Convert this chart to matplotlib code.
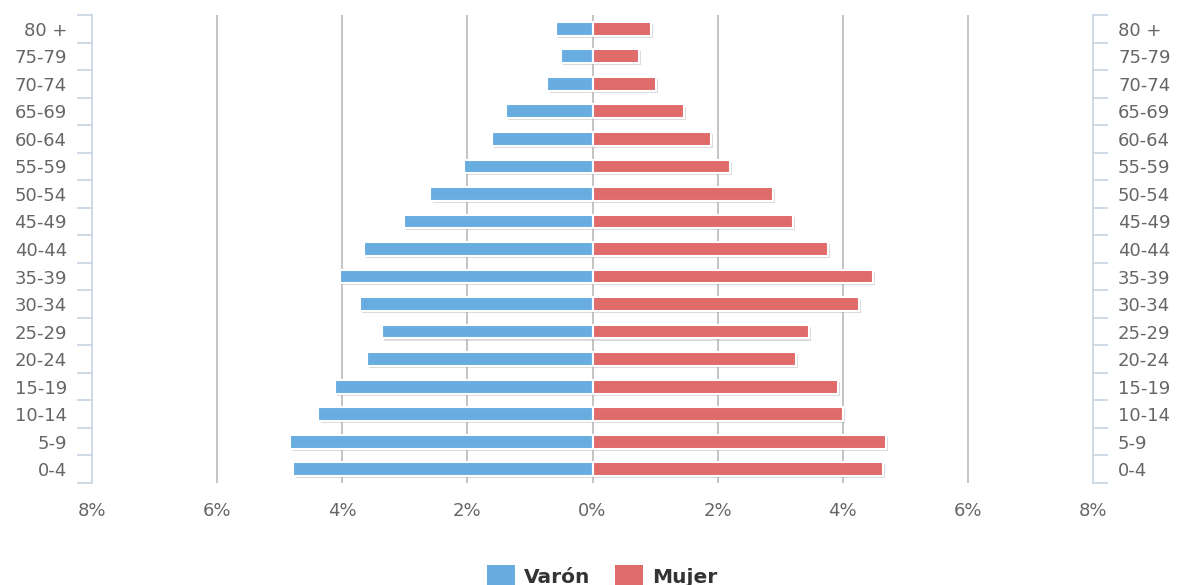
import matplotlib.pyplot as plt
import matplotlib.patheffects as pe
import numpy as np

# Age groups, bottom to top
age_groups = ["0-4", "5-9", "10-14", "15-19", "20-24", "25-29", "30-34", "35-39",
              "40-44", "45-49", "50-54", "55-59", "60-64", "65-69", "70-74", "75-79", "80 +"]

# Percent of population per group
varon = [4.78, 4.83, 4.38, 4.11, 3.60, 3.36, 3.71, 4.03,
         3.66, 3.02, 2.59, 2.05, 1.60, 1.39, 0.72, 0.50, 0.58]
mujer = [4.64, 4.69, 4.00, 3.92, 3.25, 3.46, 4.26, 4.48,
         3.76, 3.20, 2.88, 2.19, 1.89, 1.46, 1.02, 0.74, 0.93]

x_ticks = [-8, -6, -4, -2, 0, 2, 4, 6, 8]
x_tick_labels = ["8%", "6%", "4%", "2%", "0%", "2%", "4%", "6%", "8%"]

blue = "#68ade0"
red = "#e06b6b"
text_color = "#666666"
axis_color = "#c6d4e3"

fig = plt.figure(figsize=(11.79, 5.85), dpi=100)
ax = fig.add_axes([92 / 1179, 1 - 483 / 585, (1093 - 92) / 1179, (483 - 15) / 585])

y = np.arange(len(age_groups))

# Grid lines (not at the outer edges)
for gx in x_ticks[1:-1]:
    ax.axvline(gx, color="#c4c4c4", linewidth=1.4, zorder=0)

shadow = [pe.SimplePatchShadow(offset=(1.5, -1.5), shadow_rgbFace="#999999", alpha=0.35), pe.Normal()]
bars_v = ax.barh(y, -np.array(varon), height=0.5, color=blue, edgecolor="white",
                 linewidth=1.5, label="Varón", zorder=2)
bars_m = ax.barh(y, mujer, height=0.5, color=red, edgecolor="white",
                 linewidth=1.5, label="Mujer", zorder=2)
for b in list(bars_v) + list(bars_m):
    b.set_path_effects(shadow)

ax.set_xlim(-8, 8)
ax.set_ylim(-0.5, len(age_groups) - 0.5)

# X axis: labels only
ax.set_xticks(x_ticks)
ax.set_xticklabels(x_tick_labels)
ax.tick_params(axis="x", length=0, pad=14, labelsize=13, labelcolor=text_color)

# Hide spines except the left category axis
for side in ["top", "bottom", "right"]:
    ax.spines[side].set_visible(False)
ax.spines["left"].set_color(axis_color)
ax.spines["left"].set_linewidth(1.2)

# Left category axis
ax.set_yticks(y)
ax.set_yticklabels(age_groups)
ax.set_yticks(np.arange(len(age_groups) + 1) - 0.5, minor=True)
ax.tick_params(axis="y", which="major", length=0, pad=18, labelsize=13, labelcolor=text_color)
ax.tick_params(axis="y", which="minor", length=11, width=1.2, color=axis_color)

# Right category axis (mirror)
ax2 = ax.twinx()
ax2.set_ylim(ax.get_ylim())
ax2.set_yticks(y)
ax2.set_yticklabels(age_groups)
ax2.set_yticks(np.arange(len(age_groups) + 1) - 0.5, minor=True)
ax2.tick_params(axis="y", which="major", length=0, pad=18, labelsize=13, labelcolor=text_color)
ax2.tick_params(axis="y", which="minor", length=11, width=1.2, color=axis_color)
for side in ["top", "bottom", "left"]:
    ax2.spines[side].set_visible(False)
ax2.spines["right"].set_color(axis_color)
ax2.spines["right"].set_linewidth(1.2)

# Legend at the bottom
leg = fig.legend(handles=[bars_v, bars_m], loc="center", bbox_to_anchor=(602 / 1179, 1 - 576 / 585),
                 ncol=2, frameon=False, handlelength=1.4, handleheight=1.25,
                 columnspacing=1.2, handletextpad=0.45, borderpad=0.1,
                 prop={"weight": "bold", "size": 14.5})
for t in leg.get_texts():
    t.set_color("#333333")
for h in leg.legend_handles:
    h.set_edgecolor("none")
    h.set_path_effects([])

fig.savefig("out.png", dpi=100)
